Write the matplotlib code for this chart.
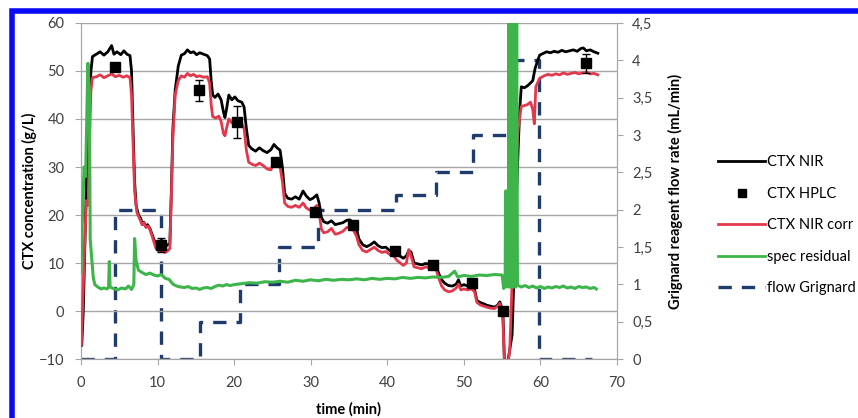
import matplotlib
matplotlib.use("Agg")
from matplotlib import pyplot as plt
from matplotlib.lines import Line2D
from matplotlib.patches import Rectangle
from matplotlib.ticker import FuncFormatter

plt.rcParams['font.family'] = ['Lato', 'DejaVu Sans']

# CTX NIR (black)
nir_t = [0.1, 0.3, 0.6, 0.8, 0.95, 1.1, 1.3, 1.5, 2.0, 2.5, 3.0, 3.5, 4.0, 4.3,
         4.7, 5.2, 5.6, 6.0, 6.4, 6.6, 6.8, 7.0, 7.2, 7.5, 7.8, 8.0, 8.2, 8.5,
         8.7, 9.0, 9.2, 9.5, 9.8, 10.2, 10.6, 11.0, 11.3, 11.6, 11.8, 12.0,
         12.3, 12.7, 13.1, 13.5, 13.9, 14.3, 14.7, 15.1, 15.5, 16.0, 16.5,
         16.8, 17.0, 17.2, 17.5, 17.9, 18.3, 18.6, 18.8, 19.0, 19.3, 19.7,
         20.1, 20.5, 21.0, 21.3, 21.6, 21.9, 22.3, 22.8, 23.3, 23.8, 24.3,
         24.8, 25.2, 25.6, 26.0, 26.3, 26.6, 27.0, 27.5, 28.0, 28.5, 29.0,
         29.4, 29.9, 30.3, 30.8, 31.1, 31.4, 31.7, 32.2, 32.7, 33.2, 33.7,
         34.2, 34.7, 35.1, 35.6, 36.0, 36.3, 36.8, 37.3, 37.8, 38.3, 38.8,
         39.3, 39.8, 40.3, 40.8, 41.3, 41.7, 42.1, 42.5, 42.8, 43.1, 43.5,
         44.0, 44.5, 45.0, 45.5, 46.0, 46.4, 46.8, 47.1, 47.5, 48.0, 48.5,
         49.0, 49.3, 49.6, 50.0, 50.5, 51.0, 51.4, 51.7, 52.1, 52.6, 53.0,
         53.5, 54.0, 54.4, 54.7, 54.9, 55.1, 55.3, 55.7, 56.0, 56.3, 56.6,
         56.9, 57.1, 57.3, 57.5, 57.9, 58.3, 58.7, 59.0, 59.3, 59.6, 59.9,
         60.3, 60.8, 61.3, 61.8, 62.3, 62.8, 63.3, 63.8, 64.3, 64.8, 65.3,
         65.6, 66.0, 66.5, 67.0, 67.5]
nir_val = [-7.1, 0, 20, 33, 36, 42, 50, 53, 53.5, 54, 53.3, 54, 55.3, 53.5,
           54, 53.4, 54.2, 53.5, 53.2, 50, 38, 27, 22, 20, 19.3, 18, 18.5,
           17.5, 18, 17.2, 16.3, 15, 13.8, 13.5, 14, 13.4, 13.8, 14, 25, 38,
           46, 51, 53.3, 53.6, 54.4, 53.8, 54, 53.4, 53.8, 53.5, 53.2, 52.5,
           48, 45, 44.5, 45.2, 44, 41.5, 40.3, 42, 45, 44, 44.6, 43.8, 43.5,
           42.5, 38, 34.5, 33.8, 33.3, 34, 33.4, 33, 33.6, 34.7, 34, 33.5, 30,
           24.5, 23.5, 23.3, 23.8, 23.3, 25, 24, 23.2, 23.5, 24.2, 22.5, 19.5,
           18.6, 18.3, 18.8, 18, 18.2, 18.4, 18.9, 19, 18.4, 17, 15, 13.8,
           13.4, 13.8, 14.4, 13.6, 13.2, 13.3, 12.6, 12.3, 11.8, 11.4, 11,
           11.5, 12.6, 12.3, 10, 9.8, 9.6, 9.9, 9.7, 9.6, 9.2, 7.5, 6.5, 5.8,
           5.3, 5.2, 5.6, 6.5, 5.2, 5.5, 5.2, 5.1, 4.5, 2.2, 1.8, 1.5, 1.2,
           1.0, 0.8, 1.2, 1.9, 1.0, -0.1, -10.5, -11, -8, -5, 10, 25, 34, 42,
           46.7, 46.5, 46.9, 47.5, 48, 50.5, 52, 53.3, 53.6, 54, 53.8, 54.1,
           53.9, 54.3, 54, 54.2, 54.4, 54.1, 54.7, 54.8, 54.2, 54.4, 54.0,
           53.7]

# CTX NIR corr (red)
corr_t = [0.05, 0.3, 0.5, 0.7, 0.95, 1.1, 1.3, 1.5, 2.0, 2.5, 3.0, 3.5, 4.0,
          4.5, 5.0, 5.5, 6.0, 6.4, 6.6, 6.8, 7.0, 7.3, 7.6, 8.0, 8.2, 8.5,
          8.8, 9.1, 9.5, 9.8, 10.2, 10.6, 11.0, 11.3, 11.6, 11.8, 12.0, 12.3,
          12.7, 13.1, 13.5, 13.9, 14.3, 14.7, 15.1, 15.5, 16.0, 16.5, 16.8,
          17.0, 17.2, 17.6, 18.0, 18.3, 18.6, 18.8, 19.0, 19.3, 19.7, 20.1,
          20.5, 21.0, 21.3, 21.6, 21.9, 22.3, 22.8, 23.3, 23.8, 24.3, 24.8,
          25.2, 25.6, 26.0, 26.3, 26.6, 27.0, 27.5, 28.0, 28.5, 29.0, 29.4,
          29.9, 30.3, 30.8, 31.1, 31.4, 31.7, 32.2, 32.7, 33.2, 33.7, 34.2,
          34.7, 35.1, 35.6, 36.0, 36.3, 36.8, 37.3, 37.8, 38.3, 38.8, 39.3,
          39.8, 40.3, 40.8, 41.3, 41.7, 42.1, 42.5, 42.8, 43.1, 43.5, 44.0,
          44.5, 45.0, 45.5, 46.0, 46.4, 46.8, 47.1, 47.5, 48.0, 48.5, 49.0,
          49.3, 49.6, 50.0, 50.5, 51.0, 51.4, 51.7, 52.1, 52.6, 53.0, 53.5,
          54.0, 54.4, 54.7, 54.9, 55.1, 55.3, 55.8, 56.0, 56.4, 56.9, 57.1,
          57.5, 57.9, 58.3, 58.7, 59.0, 59.2, 59.4, 59.9, 60.5, 61.0, 61.5,
          62.0, 62.5, 63.0, 63.5, 64.0, 64.5, 65.0, 65.5, 66.0, 66.5, 67.0,
          67.5]
corr_val = [-7, 5, 15, 23, 22, 35, 46, 48.6, 48.8, 49.2, 48.6, 49, 49.4,
            48.8, 49.1, 48.7, 49, 48.6, 45, 35, 25, 20.5, 19.4, 18, 18.4,
            17.4, 17.7, 16.5, 14.5, 13, 12.5, 12.6, 12.2, 12.5, 13, 24, 36,
            45, 48, 49, 48.7, 49.5, 49, 49.3, 48.8, 49, 48.7, 48.8, 47.5, 43,
            40.5, 40.2, 40.6, 39.5, 37, 36.5, 38, 40, 39.2, 39.5, 39, 39, 38,
            33.5, 31, 30.6, 30.3, 30.8, 30.3, 29.6, 29.4, 31, 30.5, 30, 27,
            22.5, 21.8, 21.6, 22, 21.6, 22.5, 21.5, 21, 21.2, 22, 20.5, 17,
            16.3, 16.5, 17.2, 16, 16.2, 16.6, 17.4, 17.3, 16.8, 15.5, 13.8,
            12.6, 12.3, 12.8, 13.3, 12.6, 12.2, 12.4, 11.8, 11.5, 10.5, 10,
            9.5, 10, 12.8, 11.5, 9.2, 9, 8.8, 9.2, 9, 8.9, 8.5, 6.5, 5.2, 4.4,
            4.0, 4.2, 4.8, 5.6, 4.4, 4.6, 4.4, 4.6, 4.0, 1.8, 1.3, 1.0, 0.8,
            0.6, 0.5, 1.0, 1.6, 0.5, -2, -10.5, -10.5, -8, 10, 33, 38, 42.6,
            42.8, 43, 43.5, 42, 39, 46.7, 48.5, 49, 49.3, 49.1, 49.4, 49.2,
            49.6, 49.3, 49.5, 49.7, 49.4, 49.6, 49.8, 49.4, 49.5, 49.2]

# spec residual (green)
resid_t = [0.0, 0.2, 0.4, 0.6, 0.75, 0.9, 1.1, 1.2, 1.4, 1.6, 1.8, 2.2, 2.6,
           3.0, 3.4, 3.6, 3.7, 3.8, 4.2, 4.8, 5.3, 5.8, 6.2, 6.6, 6.9, 7.0,
           7.2, 7.5, 8.0, 8.5, 9.0, 9.5, 10.0, 10.5, 11.0, 11.5, 12.0, 12.5,
           13.0, 13.5, 14.0, 14.5, 15.0, 15.5, 16.0, 16.5, 17.0, 17.5, 18.0,
           18.5, 19.0, 19.5, 20, 21, 22, 23, 24, 25, 26, 27, 28, 29, 30, 31,
           32, 33, 34, 35, 36, 37, 38, 39, 40, 41, 42, 43, 44, 45, 46, 47, 48,
           48.8, 49.2, 50, 51, 52, 53, 54, 55.0, 55.2, 55.4, 55.45, 55.5,
           55.6, 55.8, 55.9, 56.0, 56.1, 56.2, 56.3, 56.4, 56.5, 56.6, 56.7,
           56.8, 56.9, 57.0, 57.5, 58, 58.5, 59, 59.5, 60, 60.5, 61, 61.5, 62,
           62.5, 63, 63.5, 64, 64.5, 65, 65.5, 66, 66.5, 67, 67.3]
resid_val = [8, 20, 30, 28, 40, 51.6, 45, 15, 11, 7, 5.5, 5.0, 4.6, 4.8, 4.6,
             5, 10.3, 5, 4.7, 4.4, 4.8, 4.6, 5.2, 4.5, 5.5, 15.1, 10.5, 8.5,
             8, 7.6, 7.9, 7.5, 7.3, 7.6, 6.8, 6.6, 5.6, 5.2, 5.0, 4.9, 5.1,
             4.7, 4.8, 4.5, 4.8, 4.9, 4.7, 5.1, 5.4, 5.2, 5.5, 5.3, 5.5, 5.7,
             5.9, 5.8, 6.1, 6.0, 6.2, 6.0, 6.4, 6.2, 6.5, 6.3, 6.6, 6.4, 6.6,
             6.5, 6.7, 6.5, 6.8, 6.6, 6.8, 6.7, 7.0, 6.8, 7.0, 6.9, 7.1, 7.0,
             7.2, 8.3, 7.1, 7.4, 7.2, 7.5, 7.4, 7.6, 7.5, 4.7, 7, 25, 5, 25, 5,
             62, 5, 62, 5, 62, 5, 62, 5, 62, 5, 62, 5.4, 5.0, 5.3, 4.9,
             5.2, 4.8, 5.1, 4.7, 5.0, 4.8, 5.1, 4.9, 5.2, 4.8, 5.0, 4.7, 5.1,
             4.9, 5.0, 4.7, 4.9, 4.6]

# CTX HPLC (squares, with error bars)
hplc_t = [4.4, 10.5, 15.4, 20.4, 25.5, 30.5, 35.5, 41.0, 46.0, 51.0, 55.1, 66.0]
hplc_val = [50.9, 13.75, 46.0, 39.4, 31.1, 20.7, 17.9, 12.4, 9.6, 5.8, -0.1, 51.6]
hplc_err = [0.8, 1.5, 2.2, 3.3, 0.8, 0.8, 0.8, 0.5, 0.5, 0.5, 0.5, 2.0]

# flow Grignard (secondary axis, step changes)
flow_t = [0, 4.5, 10.4, 15.5, 20.8, 25.8, 30.9, 41.2, 46.3, 51.2, 56.3, 59.8, 66.8]
flow_val = [0, 2, 0, 0.5, 1, 1.5, 2, 2.2, 2.5, 3, 4, 0, 0]

c_red = '#E3384C'
c_green = '#3DB54A'
c_navy = '#1F3B6C'
c_grid = '#A6A6A6'

fig = plt.figure(figsize=(8.58, 4.18), dpi=100)
ax = fig.add_axes([0.0944, 0.1411, 0.6247, 0.8039])
ax2 = ax.twinx()

ax.plot(nir_t, nir_val, color='black', lw=2.0, zorder=3)
ax.errorbar(hplc_t, hplc_val, yerr=hplc_err, fmt='s', color='black',
            ms=6.5, capsize=3, elinewidth=1, zorder=5)
ax.plot(corr_t, corr_val, color=c_red, lw=2.0, zorder=4)
ax.plot(resid_t, resid_val, color=c_green, lw=2.2, zorder=6)
ax2.plot(flow_t, flow_val, color=c_navy, lw=2.4, drawstyle='steps-post',
         dashes=(4, 3))

ax.set_xlim(0, 70)
ax.set_ylim(-10, 60)
ax.set_yticks(range(-10, 61, 10))
ax.set_xticks(range(0, 71, 10))
ax2.set_ylim(0, 4.5)
ax2.set_yticks([i * 0.5 for i in range(10)])
ax2.yaxis.set_major_formatter(
    FuncFormatter(lambda v, p: ('%g' % v).replace('.', ',')))

ax.grid(axis='y', color=c_grid, lw=1)
ax.set_axisbelow(True)
for a in (ax, ax2):
    a.spines['top'].set_visible(False)
    for s in ('left', 'right', 'bottom'):
        a.spines[s].set_color(c_grid)
    a.tick_params(colors=c_grid, labelcolor='#404040', labelsize=10.5,
                  length=4)
ax.tick_params(axis='y', pad=8)
ax.tick_params(axis='x', pad=8)
ax2.tick_params(axis='y', pad=7)
ax.set_zorder(ax2.get_zorder() + 1)
ax.patch.set_visible(False)

ax.set_ylabel('CTX concentration (g/L)', fontsize=10.5, fontweight='bold',
              labelpad=1)
ax.set_xlabel('time (min)', fontsize=10.5, fontweight='bold', labelpad=9)
ax2.set_ylabel('Grignard reagent flow rate (mL/min)', fontsize=10.5,
               fontweight='bold', labelpad=11)

handles = [
    Line2D([], [], color='black', lw=2),
    Line2D([], [], color='black', marker='s', ls='none', ms=6),
    Line2D([], [], color=c_red, lw=2),
    Line2D([], [], color=c_green, lw=2),
    Line2D([], [], color=c_navy, lw=2.4, dashes=(4, 3)),
]
labels = ['CTX NIR', 'CTX HPLC', 'CTX NIR corr', 'spec residual',
          'flow Grignard']
fig.legend(handles, labels, loc='center left', bbox_to_anchor=(0.822, 0.461),
           frameon=False, fontsize=10.5, handlelength=3.2, handletextpad=0.15,
           labelspacing=1.2)

# blue frame around the figure (cut at right and bottom)
fig.patches.append(Rectangle((12 / 858, -0.2), 1.2, 0.2 + 1 - 10.5 / 418,
                             transform=fig.transFigure, fill=False,
                             edgecolor='#0A0AF5', lw=4))

fig.savefig('out.png', dpi=100)
